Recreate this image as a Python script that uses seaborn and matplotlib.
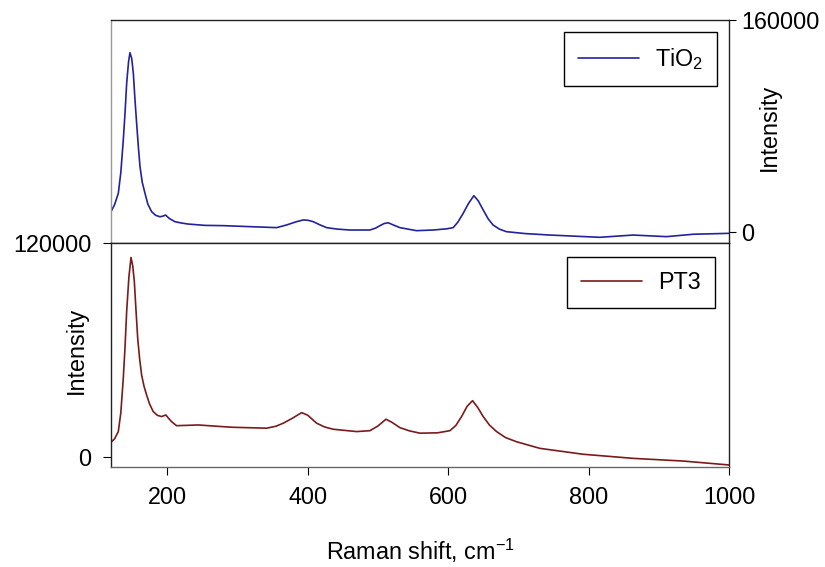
import numpy as np
import pandas as pd
import matplotlib
matplotlib.use("Agg")
import matplotlib.pyplot as plt
import seaborn as sns

# ---- data ----
tio2_shift = [120, 125, 130.4, 134, 137.5, 140, 142.3, 145, 147, 149.5, 151.8, 154, 156.5,
              159, 161.3, 164.5, 168.4, 172.5, 177.9, 183.5,
              189.7, 194, 197.7, 203, 211, 220, 230, 253.8, 279.8, 320, 355.8, 370, 383, 393.7,
              400, 408, 417, 427, 442, 460, 488.7, 497, 503, 509, 514.7, 522, 531.4, 555, 578.8,
              598, 607.3, 614, 621.5, 629, 636.7, 643, 650, 657, 664, 673, 683, 710, 745, 816,
              863.5, 911, 949, 1000]
tio2_int = [15300, 20500, 29200, 45000, 69400, 90000, 112200, 128500, 135300, 131000,
            119800, 101000, 82000, 64000, 49300, 37500, 29200, 21000, 15300, 12600,
            11500, 12000, 12800, 10200, 7800, 6800, 6000, 5000, 4800, 4000, 3300, 5300, 7600,
            9100, 8900, 7800, 5500, 3300, 2200, 1500, 1500, 3000, 4800, 6400, 7000, 5300, 3300,
            1000, 1500, 2400, 3300, 7500, 14100, 21500, 27400, 23500, 16600, 10000, 5300,
            2200, 250, -1200, -2300, -4000, -2300, -3500, -1700, -1000]

pt3_shift = [120, 125, 130.4, 134, 137.5, 140, 142.3, 145.5, 148.5, 151, 153.2, 155.5, 158,
             160.8, 163.6, 167, 170.7, 175, 180.1, 186,
             192, 198.1, 202, 206.2, 213.3, 244.3, 277.5, 294, 341.6, 355, 365.3, 378, 391.4,
             400, 412.8, 424, 436.5, 469.7, 488.7, 500, 511.5, 520, 531.4, 545, 559.9, 585,
             602.6, 611, 619.2, 627, 634.8, 642, 650, 659, 669, 682, 697.5, 730.7, 792.3,
             863.5, 934.7, 1000]
pt3_int = [8400, 10300, 14400, 25000, 44300, 62000, 81600, 101000, 111900, 107000,
           98500, 83000, 66700, 55000, 46100, 39800, 34900, 29800, 25600, 23500,
           22800, 23700, 21800, 20000, 17700, 18100, 17200, 16800, 16300, 17400, 19100,
           21800, 25000, 23600, 19100, 17000, 15700, 14400, 14900, 17500, 21300, 19600,
           16600, 14800, 13500, 13700, 14900, 17800, 22800, 28500, 31700, 28000, 22800,
           18000, 14400, 11000, 8700, 5000, 1700, -600, -2100, -4300]

x_ticks = [200, 400, 600, 800, 1000]
top_yticks = [0, 160000]
bot_yticks = [0, 120000]
labels = ["TiO$_2$", "PT3"]
colors = ["#22229e", "#7a1a1a"]

df_top = pd.DataFrame({"shift": tio2_shift, "intensity": tio2_int})
df_bot = pd.DataFrame({"shift": pt3_shift, "intensity": pt3_int})

sns.set_style("ticks")
plt.rcParams["font.family"] = ["Liberation Sans", "DejaVu Sans"]
FS = 16.8
plt.rcParams.update({
    "font.size": FS,
    "text.color": "black",
    "axes.labelcolor": "black",
    "xtick.color": "black",
    "ytick.color": "black",
    "mathtext.fontset": "custom",
    "mathtext.rm": "Liberation Sans",
    "mathtext.it": "Liberation Sans:italic",
})

fig = plt.figure(figsize=(8.25, 5.67), dpi=100)
ax_top = fig.add_axes([111/825, 1-243/567, (729-111)/825, (243-20)/567])
ax_bot = fig.add_axes([111/825, 1-466.7/567, (729-111)/825, (466.7-243)/567])

sns.lineplot(data=df_top, x="shift", y="intensity", ax=ax_top, color=colors[0],
             linewidth=1.2, label=labels[0], sort=False)
sns.lineplot(data=df_bot, x="shift", y="intensity", ax=ax_bot, color=colors[1],
             linewidth=1.2, label=labels[1], sort=False)

anchors = [(0.981, 0.946), (0.977, 0.937)]
for ax, anc in zip((ax_top, ax_bot), anchors):
    ax.set_xlim(120, 1000)
    ax.set_xticks(x_ticks)
    for s in ax.spines.values():
        s.set_visible(True)
        s.set_color("#222222")
        s.set_linewidth(1.0)
    leg = ax.legend(loc="upper right", frameon=True, fancybox=False, edgecolor="black",
                    framealpha=1, handlelength=2.6, fontsize=FS, borderpad=0.6,
                    borderaxespad=0, bbox_to_anchor=anc, handletextpad=0.7)
    leg.get_frame().set_linewidth(1.0)
    for t in leg.get_texts():
        t.set_color("black")

# top panel
ax_top.set_ylim(-8300, 160000)
ax_top.set_yticks(top_yticks)
ax_top.yaxis.tick_right()
ax_top.yaxis.set_label_position("right")
ax_top.set_ylabel("Intensity", fontsize=FS)
ax_top.yaxis.set_label_coords(1.047, 0.52)
ax_top.set_xlabel("")
ax_top.tick_params(axis="x", bottom=False, labelbottom=False)
ax_top.tick_params(axis="y", direction="out", length=5, labelsize=FS, pad=4)
ax_top.spines["left"].set_color("#999999")

# bottom panel
ax_bot.set_ylim(-5270, 120000)
ax_bot.set_yticks(bot_yticks)
ax_bot.set_ylabel("Intensity", fontsize=FS)
ax_bot.yaxis.set_label_coords(-0.037, 0.52)
ax_bot.set_xlabel("Raman shift, cm$^{-1}$", fontsize=FS, labelpad=20)
ax_bot.tick_params(axis="both", direction="out", length=6, labelsize=FS, pad=8)
ax_bot.spines["bottom"].set_color("#666666")

fig.savefig("out.png", dpi=100)
